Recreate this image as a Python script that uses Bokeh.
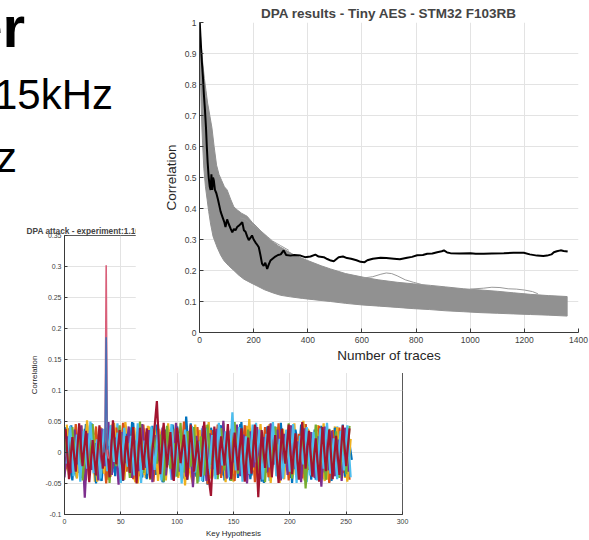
from bokeh.plotting import figure
from bokeh.models import Range1d, FixedTicker, CustomJSTickFormatter, Div
from bokeh.layouts import column
from bokeh.embed import file_html
from bokeh.resources import INLINE

FONT = "Liberation Sans"

# ---------------- big chart: DPA results - Tiny AES ----------------
traces_black = [1, 5, 9, 13, 16, 20, 24, 27, 30, 34, 38, 41, 44, 47, 50, 53, 57, 62, 68, 73, 78, 86, 92, 96,
                102, 108, 115, 121, 127, 133, 139, 146, 152, 158, 164, 170, 176, 182, 188, 194, 200, 207, 213,
                219, 225, 231, 237, 243, 250, 256, 262, 270, 280, 290, 300, 311, 320, 336, 350, 373, 390, 410,
                428, 440, 459, 472, 485, 496, 514, 530, 545, 560, 580, 595, 610, 620, 640, 669, 690, 718, 740,
                767, 785, 804, 825, 841, 860, 878, 895, 903, 915, 927, 960, 1001, 1020, 1050, 1080, 1124, 1160,
                1198, 1220, 1247, 1270, 1284, 1300, 1309, 1320, 1334, 1345, 1360]
corr_black = [1.0, 0.93, 0.87, 0.82, 0.77, 0.72, 0.66, 0.60, 0.55, 0.50, 0.47, 0.46, 0.51, 0.46, 0.50, 0.49, 0.46,
              0.45, 0.43, 0.41, 0.39, 0.37, 0.355, 0.34, 0.365, 0.35, 0.335, 0.323, 0.334, 0.33, 0.34, 0.345,
              0.35, 0.356, 0.33, 0.325, 0.31, 0.298, 0.305, 0.313, 0.30, 0.29, 0.283, 0.275, 0.25, 0.222, 0.215,
              0.225, 0.205, 0.22, 0.232, 0.238, 0.245, 0.25, 0.252, 0.265, 0.25, 0.248, 0.25, 0.248, 0.243,
              0.245, 0.251, 0.245, 0.243, 0.237, 0.232, 0.23, 0.243, 0.245, 0.24, 0.238, 0.233, 0.228, 0.227,
              0.233, 0.238, 0.241, 0.24, 0.238, 0.236, 0.241, 0.244, 0.249, 0.25, 0.254, 0.255, 0.259, 0.262,
              0.265, 0.258, 0.256, 0.255, 0.256, 0.254, 0.254, 0.255, 0.256, 0.257, 0.257, 0.252, 0.248, 0.247,
              0.248, 0.252, 0.259, 0.262, 0.265, 0.263, 0.261]

wrong_upper_x = [0, 6, 12, 18, 24, 30, 38, 46, 54, 63, 72, 82, 92, 102, 115, 127, 140, 155, 176, 195, 213, 235,
                 260, 290, 320, 350, 400, 450, 484, 540, 607, 660, 730, 790, 853, 910, 976, 1040, 1100, 1160,
                 1223, 1290, 1358]
wrong_upper_y = [1.0, 0.93, 0.87, 0.82, 0.78, 0.74, 0.70, 0.66, 0.60, 0.54, 0.51, 0.49, 0.47, 0.46, 0.43, 0.405,
                 0.395, 0.385, 0.375, 0.355, 0.34, 0.32, 0.30, 0.28, 0.265, 0.25, 0.232, 0.215, 0.205, 0.19,
                 0.178, 0.17, 0.162, 0.157, 0.152, 0.147, 0.141, 0.137, 0.133, 0.128, 0.123, 0.119, 0.116]
wrong_lower_x = [0, 3, 6, 9, 12, 16, 22, 28, 34, 41, 50, 65, 78, 90, 108, 127, 145, 164, 190, 213, 240, 274,
                 300, 336, 380, 420, 484, 540, 600, 665, 730, 790, 850, 910, 976, 1040, 1100, 1160, 1223, 1290,
                 1358]
wrong_lower_y = [1.0, 0.85, 0.74, 0.66, 0.60, 0.53, 0.47, 0.43, 0.39, 0.35, 0.31, 0.275, 0.25, 0.232, 0.215,
                 0.20, 0.185, 0.172, 0.16, 0.15, 0.138, 0.127, 0.12, 0.115, 0.11, 0.106, 0.10, 0.094, 0.089,
                 0.085, 0.081, 0.077, 0.074, 0.07, 0.067, 0.064, 0.062, 0.06, 0.058, 0.056, 0.053]
stray1_x = [600, 640, 670, 690, 710, 730, 760, 790, 820]
stray1_y = [0.175, 0.18, 0.188, 0.192, 0.19, 0.183, 0.17, 0.162, 0.155]
stray2_x = [1000, 1050, 1080, 1110, 1140, 1170, 1200, 1230, 1250]
stray2_y = [0.14, 0.143, 0.146, 0.145, 0.141, 0.14, 0.137, 0.132, 0.125]
stray3_x = [150, 170, 190, 210, 230, 250, 270, 300, 330]
stray3_y = [0.37, 0.365, 0.35, 0.34, 0.325, 0.31, 0.295, 0.28, 0.265]

big_xticks = [0, 200, 400, 600, 800, 1000, 1200, 1400]
big_yticks = [0, 0.1, 0.2, 0.3, 0.4, 0.5, 0.6, 0.7, 0.8, 0.9, 1]

# ---------------- small chart: DPA attack ----------------
s1 = [0.031, -0.022, 0.044, -0.035, 0.012, -0.041, 0.038, -0.018, 0.047, -0.029, 0.020, -0.046, 0.035, -0.012,
      0.041, -0.038, 0.026, -0.044, 0.015, -0.031, 0.049, -0.024, 0.033, -0.040, 0.008, -0.027, 0.043, -0.036,
      0.019, -0.048, 0.037, -0.015, 0.045, -0.033, 0.024, -0.042, 0.058, -0.021, 0.030, -0.039, 0.014, -0.047,
      0.040, -0.026, 0.036, -0.011, 0.044, -0.037, 0.022, -0.045, 0.032, -0.019, 0.046, -0.034, 0.017, -0.043,
      0.039, -0.028, 0.025, -0.049, 0.042, -0.016, 0.034, -0.038, 0.048, -0.023, 0.029, -0.041, 0.013, -0.035,
      0.045, -0.030, 0.021, -0.044, 0.037, -0.020, 0.043, -0.032, 0.018, -0.046, 0.040, -0.025, 0.035, -0.039,
      0.027, -0.012]
s2 = [-0.027, 0.039, -0.014, 0.046, -0.033, 0.021, -0.045, 0.030, -0.009, 0.042, -0.037, 0.018, -0.050, 0.034,
      -0.024, 0.040, -0.016, 0.048, -0.031, 0.026, -0.043, 0.011, -0.038, 0.045, -0.020, 0.033, -0.047, 0.028,
      -0.035, 0.043, -0.013, 0.037, -0.044, 0.019, -0.029, 0.050, -0.039, 0.024, -0.018, 0.041, -0.034, 0.029,
      -0.051, 0.036, -0.022, 0.045, -0.041, 0.016, -0.030, 0.038, -0.046, 0.027, -0.015, 0.044, -0.036, 0.032,
      -0.048, 0.020, -0.026, 0.041, -0.040, 0.035, -0.019, 0.047, -0.032, 0.023, -0.045, 0.039, -0.011, 0.030,
      -0.042, 0.046, -0.028, 0.017, -0.037, 0.043, -0.024, 0.031, -0.049, 0.036, -0.017, 0.040, -0.033, 0.028,
      -0.044]
s3 = [0.045, -0.031, 0.018, -0.042, 0.036, -0.025, 0.052, -0.013, 0.029, -0.047, 0.041, -0.034, 0.022, -0.039,
      0.048, -0.019, 0.033, -0.044, 0.015, -0.028, 0.040, -0.050, 0.026, -0.036, 0.043, -0.021, 0.037, -0.046,
      0.012, -0.032, 0.047, -0.027, 0.038, -0.041, 0.024, -0.053, 0.034, -0.017, 0.045, -0.038, 0.020, -0.030,
      0.049, -0.043, 0.031, -0.014, 0.039, -0.048, 0.027, -0.035, 0.042, -0.022, 0.016, -0.045, 0.054, -0.029,
      0.035, -0.040, 0.023, -0.033, 0.046, -0.018, 0.030, -0.049, 0.038, -0.026, 0.044, -0.036, 0.019, -0.043,
      0.051, -0.031, 0.025, -0.039, 0.034, -0.015, 0.047, -0.044, 0.028, -0.023, 0.041, -0.037, 0.033, -0.047,
      0.022]
s4 = [-0.040, 0.026, -0.033, 0.037, -0.019, 0.044, -0.073, 0.031, -0.028, 0.015, -0.045, 0.039, -0.022, 0.049,
      -0.036, 0.024, -0.052, 0.033, -0.017, 0.042, -0.041, 0.019, -0.030, 0.046, -0.025, 0.036, -0.048, 0.028,
      -0.013, 0.040, -0.037, 0.022, -0.044, 0.048, -0.031, 0.017, -0.039, 0.035, -0.056, 0.027, -0.020, 0.043,
      -0.046, 0.031, -0.027, 0.038, -0.034, 0.051, -0.042, 0.021, -0.016, 0.045, -0.038, 0.029, -0.050, 0.034,
      -0.024, 0.041, -0.043, 0.025, -0.032, 0.047, -0.019, 0.037, -0.045, 0.030, -0.036, 0.044, -0.027, 0.018,
      -0.048, 0.039, -0.022, 0.033, -0.041, 0.026, -0.055, 0.042, -0.029, 0.035, -0.038, 0.021, -0.046, 0.040,
      -0.031]
s5 = [0.022, -0.036, 0.041, -0.024, 0.033, -0.045, 0.017, -0.030, 0.046, -0.038, 0.027, -0.016, 0.040, -0.049,
      0.031, -0.022, 0.044, -0.035, 0.019, -0.041, 0.036, -0.027, 0.050, -0.033, 0.024, -0.044, 0.038, -0.018,
      0.029, -0.047, 0.043, -0.026, 0.015, -0.039, 0.048, -0.032, 0.034, -0.023, 0.041, -0.050, 0.026, -0.037,
      0.045, -0.020, 0.032, -0.043, 0.039, -0.029, 0.023, -0.046, 0.049, -0.034, 0.028, -0.040, 0.037, -0.017,
      0.044, -0.031, 0.021, -0.048, 0.035, -0.025, 0.042, -0.038, 0.030, -0.019, 0.047, -0.042, 0.027, -0.033,
      0.040, -0.058, 0.032, -0.024, 0.045, -0.036, 0.020, -0.044, 0.038, -0.028, 0.034, -0.041, 0.026, -0.035,
      0.043]
s6 = [-0.018, 0.043, -0.038, 0.029, -0.047, 0.035, -0.026, 0.050, -0.033, 0.021, -0.042, 0.038, -0.030, 0.044,
      -0.015, 0.032, -0.049, 0.040, -0.023, 0.027, -0.037, 0.047, -0.041, 0.019, -0.034, 0.042, -0.028, 0.036,
      -0.045, 0.024, -0.020, 0.046, -0.039, 0.031, -0.050, 0.037, -0.025, 0.043, -0.032, 0.018, -0.046, 0.039,
      -0.036, 0.028, -0.043, 0.048, -0.021, 0.034, -0.040, 0.065, -0.029, 0.041, -0.047, 0.026, -0.035, 0.045,
      -0.016, 0.037, -0.044, 0.030, -0.024, 0.049, -0.038, 0.022, -0.042, 0.036, -0.031, 0.046, -0.049, 0.027,
      -0.019, 0.041, -0.037, 0.033, -0.045, 0.039, -0.026, 0.048, -0.034, 0.023, -0.043, 0.035, -0.029, 0.044,
      -0.040]
s7 = [0.038, -0.043, 0.025, -0.031, 0.047, -0.022, 0.035, -0.048, 0.020, -0.037, 0.044, -0.026, 0.031, -0.040,
      0.052, -0.019, 0.036, -0.045, 0.027, -0.033, 0.041, -0.050, 0.040, -0.028, 0.039, -0.042, 0.022, 0.083,
      -0.035, 0.048, -0.024, 0.033, -0.046, 0.040, -0.017, 0.029, -0.044, 0.045, -0.031, 0.019, -0.039, 0.050,
      -0.027, -0.070, 0.042, -0.036, 0.026, -0.021, 0.046, -0.043, 0.032, -0.029, 0.039, -0.047, 0.024, -0.034,
      0.045, -0.072, 0.036, -0.025, 0.043, -0.040, 0.028, -0.049, 0.038, -0.018, 0.045, -0.035, 0.031, -0.044,
      0.049, -0.026, 0.035, -0.039, 0.023, -0.047, 0.041, -0.030, 0.037, -0.043, 0.027, -0.036, 0.044, -0.022,
      0.039]
s8 = [0.012, 0.036, -0.028, -0.041, 0.025, -0.010, 0.044, 0.018, -0.035, 0.029, -0.046, -0.020, 0.038, 0.007,
      -0.032, 0.047, -0.015, -0.043, 0.027, 0.040, -0.024, 0.010, -0.049, 0.033, 0.019, -0.037, -0.012, 0.045,
      -0.027, 0.031, 0.006, -0.044, 0.036, -0.019, -0.038, 0.041, 0.023, -0.030, 0.014, -0.047, 0.039, -0.008,
      0.028, -0.041, -0.022, 0.046, -0.033, 0.017, 0.035, -0.045, 0.024, -0.014, -0.036, 0.043, 0.011, -0.029,
      0.048, -0.039, -0.006, 0.032, -0.046, 0.026, 0.041, -0.021, -0.034, 0.037, -0.011, 0.045, -0.040, 0.016,
      0.030, -0.048, 0.022, -0.026, 0.044, -0.017, -0.043, 0.035, 0.009, -0.038, 0.042, -0.024, 0.019, -0.045]
s9 = [-0.034, -0.012, 0.040, -0.026, 0.021, 0.043, -0.039, -0.008, 0.031, -0.047, 0.016, 0.037, -0.022, -0.044,
      0.045, -0.011, 0.026, -0.038, 0.049, 0.004, -0.030, -0.048, 0.034, 0.020, -0.041, 0.042, -0.016, -0.033,
      0.038, 0.013, -0.045, 0.029, -0.024, 0.047, -0.037, 0.008, 0.041, -0.029, -0.050, 0.024, 0.036, -0.018,
      0.044, -0.042, -0.009, 0.033, -0.035, 0.048, -0.026, 0.015, -0.047, 0.039, 0.002, -0.031, 0.043, -0.040,
      0.021, -0.015, 0.046, -0.036, 0.027, -0.049, 0.012, 0.040, -0.028, -0.043, 0.034, -0.020, 0.047, -0.033,
      0.010, -0.045, 0.038, 0.025, -0.039, 0.044, -0.013, -0.046, 0.031, -0.027, 0.042, -0.037, 0.018, -0.041,
      0.036]
s10 = [0.041, -0.017, -0.045, 0.028, 0.008, -0.036, 0.046, -0.029, 0.019, -0.050, 0.035, 0.014, -0.040, 0.043,
       -0.025, -0.011, 0.037, -0.046, 0.030, -0.020, 0.048, -0.034, 0.005, 0.039, -0.043, 0.024, -0.031, 0.045,
       -0.014, -0.048, 0.036, 0.017, -0.038, 0.042, -0.027, 0.010, -0.044, 0.047, -0.021, 0.032, -0.039, 0.026,
       -0.052, 0.040, 0.013, -0.033, 0.044, -0.045, 0.021, -0.018, 0.038, -0.041, 0.049, -0.025, 0.007, -0.037,
       0.043, 0.016, -0.047, 0.034, -0.030, 0.045, -0.012, -0.042, 0.039, -0.022, 0.028, -0.049, 0.037, 0.003,
       -0.035, 0.046, -0.026, 0.020, -0.044, 0.041, -0.016, 0.033, -0.048, 0.029, 0.011, -0.039, 0.045, -0.031]

key_series = [s8, s9, s10, s1, s2, s3, s4, s5, s6, s7]
series_offsets = [2, 0, 1, 0, 1, 2, 0, 1, 2, 1]
series_colors = ["#4DBEEE", "#EDB120", "#0072BD", "#0072BD", "#D95319", "#EDB120", "#7E2F8E", "#77AC30",
                 "#4DBEEE", "#A2142F"]
spike_keys = [35, 36, 37, 38, 39]
spike_red = [0.01, 0.02, 0.302, 0.0, -0.01]
spike_blue = [0.0, 0.025, 0.186, 0.005, 0.01]

small_xticks = [0, 50, 100, 150, 200, 250, 300]
small_yticks = [-0.1, -0.05, 0, 0.05, 0.1, 0.15, 0.2, 0.25, 0.3, 0.35]

fmt_code = "return String(tick);"


def style_axes(fig, label_size, tick_size, tick_in):
    for ax in (fig.xaxis[0], fig.yaxis[0]):
        ax.formatter = CustomJSTickFormatter(code=fmt_code)
        ax.major_tick_in = tick_in
        ax.major_tick_out = 0
        ax.minor_tick_line_color = None
        ax.axis_line_color = "#3a3a3a"
        ax.major_tick_line_color = "#3a3a3a"
        ax.major_label_text_font = FONT
        ax.major_label_text_font_size = tick_size
        ax.major_label_text_color = "#404040"
        ax.axis_label_text_font = FONT
        ax.axis_label_text_font_size = label_size
        ax.axis_label_text_font_style = "normal"
        ax.axis_label_text_color = "#262626"
    fig.xgrid.grid_line_color = "#e3e3e3"
    fig.ygrid.grid_line_color = "#e3e3e3"


# ---------------- small figure (full page, frame bottom-left) ----------------
small = figure(width=589, height=540, output_backend="svg", toolbar_location=None,
               x_range=Range1d(0, 300), y_range=Range1d(-0.1, 0.35),
               min_border_left=60, min_border_right=187, min_border_top=235, min_border_bottom=24)
small.title.text = "DPA attack - experiment:1.10"
small.title.text_font = FONT
small.title.text_font_size = "8.3px"
small.title.text_font_style = "bold"
small.title.align = "left"
small.title.offset = -38
small.title.standoff = 0
small.xaxis.ticker = FixedTicker(ticks=small_xticks)
small.yaxis.ticker = FixedTicker(ticks=small_yticks)
small.xaxis.axis_label = "Key Hypothesis"
small.yaxis.axis_label = "Correlation"
style_axes(small, "7.9px", "7px", 3)
small.xaxis.major_label_standoff = 4
small.yaxis.major_label_standoff = 3
small.xaxis.axis_label_standoff = 2
small.yaxis.axis_label_standoff = 4
small.outline_line_color = "#5a5a5a"

for vals, off, col in zip(key_series, series_offsets, series_colors):
    xs = [off + 3 * i for i in range(len(vals))]
    small.line(xs, vals, line_color=col, line_width=2.2)
small.line(spike_keys, spike_red, line_color="#D9607A", line_width=1.6)
small.line(spike_keys, spike_blue, line_color="#4A6FB5", line_width=1.6)

# ---------------- slide text (partly visible) ----------------
slide_html = (
    '<div style="position:relative;width:135px;height:200px;margin:0;padding:0;'
    'font-family:\'Liberation Sans\',Arial,sans-serif;color:#000;white-space:nowrap;">'
    '<span style="position:absolute;right:110px;top:-2px;font-size:58px;line-height:58px;font-weight:bold;">er</span>'
    '<span style="position:absolute;right:22px;top:74px;font-size:42px;line-height:42px;">15kHz</span>'
    '<span style="position:absolute;right:118px;top:136px;font-size:43px;line-height:43px;">z</span>'
    '</div>'
)
slide = Div(text=slide_html, width=135, height=200, margin=(-540, 0, 0, 0))

# ---------------- big figure (drawn over the small one) ----------------
big = figure(frame_width=379, frame_height=310, output_backend="svg", toolbar_location=None,
             x_range=Range1d(0, 1400), y_range=Range1d(0, 1),
             min_border_left=64, min_border_right=11, min_border_top=22, min_border_bottom=41,
             margin=(-200, 0, 0, 135))
big.title.text = "DPA results - Tiny AES - STM32 F103RB"
big.title.text_font = FONT
big.title.text_font_size = "13.5px"
big.title.text_font_style = "bold"
big.title.align = "center"
big.title.standoff = 4
big.xaxis.ticker = FixedTicker(ticks=big_xticks)
big.yaxis.ticker = FixedTicker(ticks=big_yticks)
big.xaxis.axis_label = "Number of traces"
big.yaxis.axis_label = "Correlation"
style_axes(big, "13.5px", "8.5px", 4)
big.xaxis.major_label_standoff = 4
big.yaxis.major_label_standoff = 3
big.xaxis.axis_label_standoff = 2
big.yaxis.axis_label_standoff = 3
big.outline_line_color = None

band_x = wrong_upper_x + wrong_lower_x[::-1]
band_y = wrong_upper_y + wrong_lower_y[::-1]
big.patch(band_x, band_y, fill_color="#919191", line_color="#919191", line_width=1)
big.line(stray1_x, stray1_y, line_color="#9a9a9a", line_width=1)
big.line(stray2_x, stray2_y, line_color="#9a9a9a", line_width=1)
big.line(stray3_x, stray3_y, line_color="#9a9a9a", line_width=1)
big.line(traces_black, corr_black, line_color="black", line_width=2)

layout = column(small, slide, big)
open("out.html", "w").write(file_html(layout, INLINE))
